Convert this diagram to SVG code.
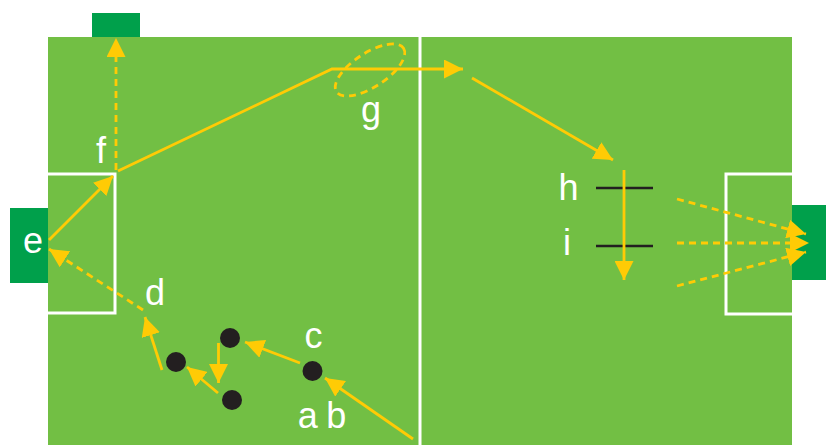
<svg xmlns="http://www.w3.org/2000/svg" width="826" height="445" viewBox="0 0 826 445">
<style>
.lbl{font-family:"Liberation Sans",Arial,sans-serif;font-size:36px;fill:#ffffff;text-anchor:middle}
.mv{fill:none;stroke:#FFCB05;stroke-width:2.8}
.ds{stroke-dasharray:7 5}
.wl{fill:none;stroke:#ffffff;stroke-width:3}
.goal{fill:#00A04B}
.pl{fill:#231F20}
.mk{stroke:#231F20;stroke-width:2.5}
</style>
<defs>
<marker id="ah" markerUnits="userSpaceOnUse" markerWidth="19" markerHeight="19" refX="19" refY="9.5" orient="auto" viewBox="0 0 19 19">
<path d="M0,0 L19,9.5 L0,19 z" fill="#FFCB05"/>
</marker>
</defs>
<rect width="826" height="445" fill="#ffffff"/>
<g id="field">
<rect x="48" y="37" width="744" height="408" fill="#72BF44"/>
<line x1="420" y1="37" x2="420" y2="445" class="wl" stroke-width="2.6"/>
<path d="M48,174 H115 V313 H48" class="wl"/>
<path d="M792,174 H726 V314 H792" class="wl"/>
</g>
<g id="goal-top"><rect x="92" y="13" width="48" height="24" class="goal"/></g>
<g id="goal-left"><rect x="10" y="208" width="38" height="75" class="goal"/></g>
<g id="goal-right"><rect x="792" y="205" width="34" height="75" class="goal"/></g>
<g id="markers-hi">
<line x1="596" y1="188" x2="653" y2="188" class="mk"/>
<line x1="596" y1="246" x2="653" y2="246" class="mk"/>
</g>
<g id="players">
<circle cx="230" cy="338" r="10" class="pl"/>
<circle cx="176" cy="362" r="10" class="pl"/>
<circle cx="232" cy="400" r="10" class="pl"/>
<circle cx="312.5" cy="371" r="10" class="pl"/>
</g>
<g id="connectors">
<line x1="116" y1="170" x2="116" y2="38" class="mv ds" marker-end="url(#ah)"/>
<line x1="49" y1="240" x2="113" y2="176" class="mv" marker-end="url(#ah)"/>
<line x1="143" y1="310" x2="49" y2="249" class="mv ds" marker-end="url(#ah)"/>
<polyline points="118,171 332,69 463,69" class="mv" marker-end="url(#ah)"/>
<line x1="472" y1="78" x2="613" y2="160" class="mv" marker-end="url(#ah)"/>
<line x1="624" y1="170" x2="624" y2="280" class="mv" marker-end="url(#ah)"/>
<line x1="413" y1="439" x2="325" y2="378" class="mv" marker-end="url(#ah)"/>
<line x1="300" y1="363" x2="245" y2="342" class="mv" marker-end="url(#ah)"/>
<line x1="218.5" y1="343" x2="218.5" y2="383" class="mv" marker-end="url(#ah)"/>
<line x1="218" y1="393" x2="187" y2="367" class="mv" marker-end="url(#ah)"/>
<line x1="162" y1="370" x2="145" y2="317" class="mv" marker-end="url(#ah)"/>
<line x1="677" y1="199" x2="806" y2="234" class="mv ds" marker-end="url(#ah)"/>
<line x1="677" y1="243" x2="809" y2="243" class="mv ds" marker-end="url(#ah)"/>
<line x1="677" y1="286" x2="806" y2="252" class="mv ds" marker-end="url(#ah)"/>
<ellipse cx="370" cy="70" rx="40" ry="17" transform="rotate(-33 370 70)" class="mv ds"/>
</g>
<g id="labels">
<text x="33" y="253" class="lbl">e</text>
<text x="101" y="163" class="lbl">f</text>
<text x="155" y="305" class="lbl">d</text>
<text x="313.5" y="348" class="lbl">c</text>
<text x="322" y="428" class="lbl" word-spacing="-1.5">a b</text>
<text x="371" y="122" class="lbl">g</text>
<text x="568.5" y="200" class="lbl">h</text>
<text x="567" y="255" class="lbl">i</text>
</g>
</svg>
